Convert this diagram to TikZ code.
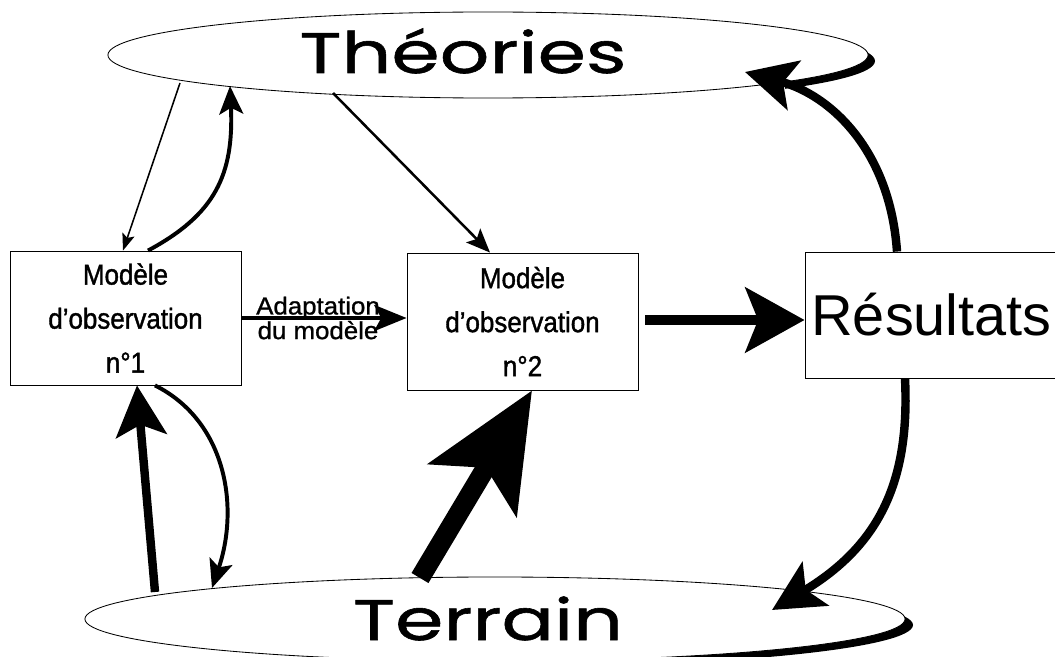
\documentclass[tikz,border=0pt]{standalone}
\usepackage{fontspec}
\setmainfont{Liberation Sans}
\newfontfamily\geo[FakeStretch=1.36,FakeBold=1]{Poppins}
\newfontfamily\narrowsans[FakeStretch=0.9,FakeBold=1.3]{Liberation Sans}
\newfontfamily\labsans[FakeStretch=1.05,FakeBold=1]{Liberation Sans}
\usetikzlibrary{arrows.meta,shapes.geometric,calc}
\tikzset{
  ell/.style={ellipse, draw, line width=0.6pt, fill=white, inner sep=0pt},
  bigword/.style={font=\geo\fontsize{40.7}{41}\selectfont, inner sep=0pt, anchor=base, text depth=0pt},
  box/.style={draw, line width=0.6pt, fill=white, minimum width=5.775cm, minimum height=3.35cm,
    align=center, inner sep=0pt, font=\narrowsans\fontsize{20.5}{31.3}\selectfont},
  lab/.style={align=center, inner sep=0pt, font=\labsans\fontsize{17.5}{14.2}\selectfont},
  aThin/.style={-{Stealth[length=12pt,width=9pt,inset=2.5pt]}, line width=1.1pt},
  aMid/.style={-{Stealth[length=17pt,width=14pt,inset=3.5pt]}, line width=1.8pt},
  aCurve/.style={-{Stealth[length=20pt,width=17pt,inset=4.5pt]}, line width=2.8pt},
  aAdapt/.style={-{Stealth[length=23pt,width=18.5pt,inset=5pt]}, line width=2.8pt},
  aThick/.style={-{Stealth[length=42pt,width=46pt,inset=9pt]}, line width=7pt},
  aBend/.style={-{Stealth[length=36pt,width=36pt,inset=8pt]}, line width=6pt},
  aHuge/.style={-{Stealth[length=82pt,width=72pt,inset=18pt]}, line width=14pt},
}
\begin{document}
\begin{tikzpicture}[x=0.025cm,y=-0.025cm]
\useasboundingbox (0,0) rectangle (1055,657);
% coordinates of ellipse centres
\coordinate (c1) at (488,55);
\coordinate (c2) at (495,619);
% shadows
\begin{scope}
  \clip (785,0) rectangle (1055,150);
  \fill ($(c1)+(7,6)$) ellipse [x radius=380, y radius=43];
\end{scope}
\begin{scope}
  \clip (640,590) rectangle (1055,657);
  \fill ($(c2)+(8,6)$) ellipse [x radius=410, y radius=42];
\end{scope}
% ellipses
\node[ell, minimum width=19cm, minimum height=2.15cm] (theoE) at (c1) {};
\node[ell, minimum width=20.5cm, minimum height=2.1cm] (terE) at (c2) {};
\node[bigword] (theo) at (463,73) {Théories};
\node[bigword] (ter) at (488,640) {Terrain};
% boxes
\node[box] (m1) at (125.5,318) {Modèle\\d’observation\\n°1};
\node[box, minimum height=3.425cm] (m2) at (522.5,321.5) {Modèle\\d’observation\\n°2};
\node[draw, line width=0.6pt, minimum width=6.325cm, minimum height=3.15cm, inner sep=0pt,
  font=\fontsize{41}{41}\selectfont] (res) at (931.5,315) {Résultats};
\node[lab] (adapt) at (318,318) {Adaptation\\du modèle};
% connectors
\draw[aThin] ($(theoE.center)+(-308,28)$) -- ($(m1.north)+(-2.5,0)$);
\draw[aCurve] ($(m1.north)+(22.5,0)$) .. controls +(67,-36) and +(4,89) .. ($(theoE.center)+(-258,31)$);
\draw[aMid] ($(theoE.center)+(-155,38)$) -- ($(m2.north)+(-32.5,0)$);
\draw[aAdapt] (m1.east) -- (m1.east -| m2.west);
\draw[aThick] ($(m2.east)+(7,-1.5)$) -- ($(res.west)+(0,5)$);
\draw[aBend] ($(res.north)+(-34.5,0)$) .. controls +(-7,-102) and +(85,23) .. ($(theoE.center)+(257,17)$);
\draw[aBend] ($(res.south)+(-26.5,0)$) .. controls +(5,102) and +(108,-65) .. ($(terE.center)+(277,-9)$);
\draw[aBend] ($(terE.center)+(-340,-27)$) -- ($(m1.south)+(11.5,0)$);
\draw[aCurve] ($(m1.south)+(29.5,0)$) .. controls +(70,35) and +(28,-83) .. ($(terE.center)+(-283,-31)$);
\draw[aHuge] ($(terE.center)+(-75,-41)$) -- ($(m2.south)+(9.5,0)$);
\end{tikzpicture}
\end{document}
